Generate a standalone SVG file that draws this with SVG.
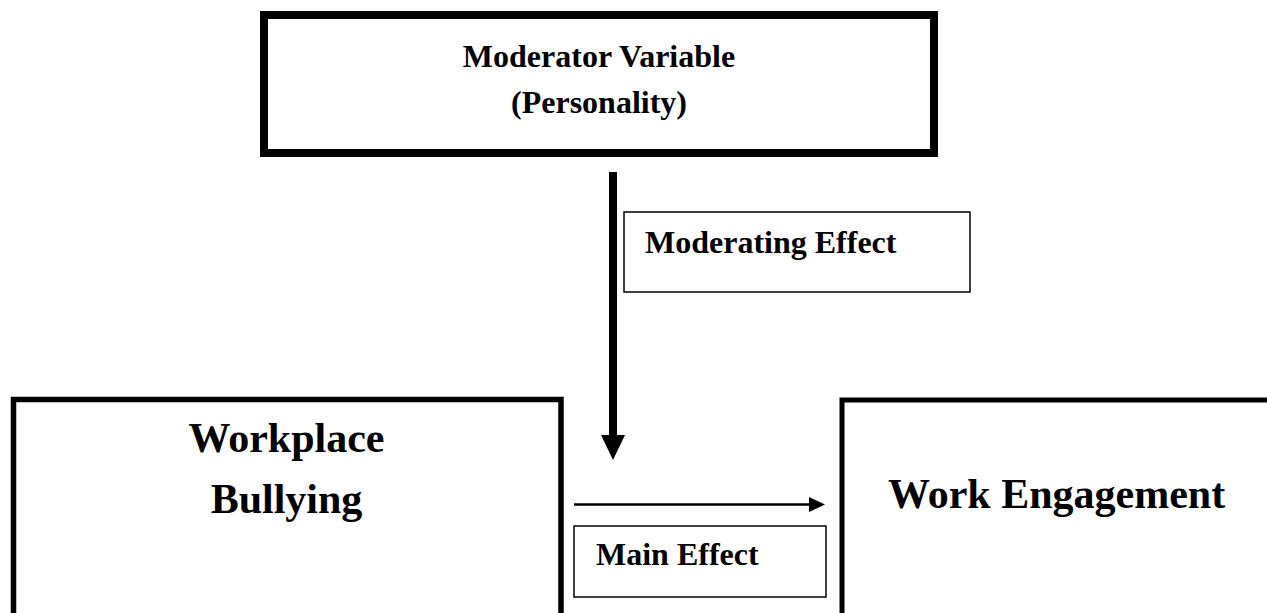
<svg xmlns="http://www.w3.org/2000/svg" width="1267" height="613" viewBox="0 0 1267 613">
  <style>
    .t { font-family: "Liberation Serif", "Times New Roman", serif; font-weight: bold; fill: #000; }
    .s32 { font-size: 32px; }
    .s42 { font-size: 42px; }
    .box { fill: #fff; stroke: #000; }
    .thin { fill: #fff; stroke: #000; stroke-width: 1.5; }
  </style>
  <rect x="0" y="0" width="1267" height="613" fill="#fff"/>
  <g id="node-moderator">
    <rect class="box" x="264" y="15" width="670" height="138" stroke-width="8"/>
    <text class="t s32" x="599" y="67" text-anchor="middle">Moderator Variable</text>
    <text class="t s32" x="599" y="113" text-anchor="middle">(Personality)</text>
  </g>
  <g id="node-bullying">
    <rect class="box" x="13.5" y="399.5" width="547.5" height="300" stroke-width="5.5"/>
    <text class="t s42" x="286.5" y="452" text-anchor="middle">Workplace</text>
    <text class="t s42" x="286.5" y="513" text-anchor="middle">Bullying</text>
  </g>
  <g id="node-engagement">
    <rect class="box" x="842" y="400" width="500" height="300" stroke-width="5"/>
    <text class="t s42" x="888" y="508">Work Engagement</text>
  </g>
  <g id="label-moderating">
    <rect class="thin" x="624" y="212" width="346" height="80"/>
    <text class="t s32" x="645" y="253">Moderating Effect</text>
  </g>
  <g id="label-main">
    <rect class="thin" x="574" y="526" width="252" height="71"/>
    <text class="t s32" x="596" y="565">Main Effect</text>
  </g>
  <g id="connectors">
    <line x1="613" y1="172" x2="613" y2="437" stroke="#000" stroke-width="8"/>
    <polygon points="601,435 625,435 613,460" fill="#000"/>
    <line x1="574" y1="504.5" x2="811" y2="504.5" stroke="#000" stroke-width="2.5"/>
    <polygon points="809,497 825,504.5 809,512" fill="#000"/>
  </g>
</svg>
